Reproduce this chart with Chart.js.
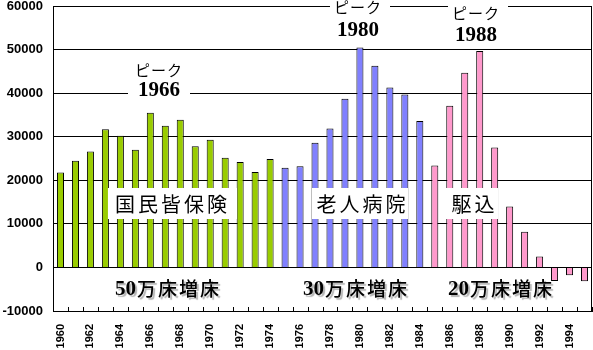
<!DOCTYPE html>
<html>
<head>
<meta charset="utf-8">
<script src="https://cdn.jsdelivr.net/npm/chart.js@4"></script>
<style>
  html, body { margin: 0; padding: 0; background: #fff; }
</style>
</head>
<body>
<canvas id="bedChart" width="593" height="350"></canvas>
<script>
const years = [
  '1960', '1961', '1962', '1963', '1964', '1965', '1966', '1967', '1968', '1969',
  '1970', '1971', '1972', '1973', '1974', '1975', '1976', '1977', '1978', '1979',
  '1980', '1981', '1982', '1983', '1984', '1985', '1986', '1987', '1988', '1989',
  '1990', '1991', '1992', '1993', '1994', '1995'
];

// 病床増加数（年ごと）
const kokuminKaihoken = [21800, 24500, 26600, 31700, 30200, 27000, 35500, 32500, 33900, 27800,
                         29300, 25200, 24200, 21900, 24900];       // 1960-1974
const roujinByouin = [22900, 23200, 28600, 31900, 38700, 50500, 46300, 41300, 39700, 33600]; // 1975-1984
const kakekomi = [23400, 37100, 44700, 49700, 27500, 14000, 8200, 2500, -3100, -1800, -3200]; // 1985-1995

const yTicks = [-10000, 0, 10000, 20000, 30000, 40000, 50000, 60000];

const GREEN = '#99CC00';
const BLUE = '#8080FF';
const PINK = '#FF99CC';

const values = kokuminKaihoken.concat(roujinByouin, kakekomi);
const colors = kokuminKaihoken.map(() => GREEN)
  .concat(roujinByouin.map(() => BLUE), kakekomi.map(() => PINK));

const JP = "'Noto Sans CJK JP'";

// 目盛り・注記・区間ラベル
const overlay = {
  id: 'overlay',
  afterDatasetsDraw(chart) {
    const { ctx, chartArea: a, scales: { x } } = chart;
    ctx.save();

    // 内向きの目盛り線と右枠
    ctx.strokeStyle = '#000';
    ctx.lineWidth = 1;
    ctx.beginPath();
    const half = (x.getPixelForValue(1) - x.getPixelForValue(0)) / 2;
    for (let i = 0; i <= years.length; i++) {
      const px = Math.round(x.getPixelForValue(i) - half) + 0.5;
      ctx.moveTo(px, a.bottom);
      ctx.lineTo(px, a.bottom - 4);
    }
    ctx.moveTo(a.right - 0.5, a.top);
    ctx.lineTo(a.right - 0.5, a.bottom);
    ctx.stroke();

    ctx.textAlign = 'center';
    ctx.textBaseline = 'middle';

    // ピーク
    const peak = (cx, left, right, top, bottom, y1, y2, year) => {
      ctx.fillStyle = '#fff';
      ctx.fillRect(left, top, right - left, bottom - top);
      ctx.fillStyle = '#000';
      ctx.font = '15px ' + JP;
      ctx.letterSpacing = '1px';
      ctx.fillText('ピーク', cx, y1);
      ctx.letterSpacing = '0px';
      ctx.font = 'bold 21px "Liberation Serif"';
      ctx.fillText(year, cx, y2);
    };
    peak(159, 128, 190, 62, 100, 70, 91, '1966');
    peak(358, 330, 390, 0, 40, 7, 31, '1980');
    peak(476, 448, 508, 0, 44, 13, 36, '1988');

    // 白抜きの区間ラベル
    const boxed = (text, left, right, cx) => {
      ctx.fillStyle = '#fff';
      ctx.fillRect(left, 188, right - left, 31);
      ctx.fillStyle = '#000';
      ctx.font = '20px ' + JP;
      ctx.letterSpacing = '3px';
      ctx.fillText(text, cx + 1.5, 204);
      ctx.letterSpacing = '0px';
    };
    boxed('国民皆保険', 108, 237, 171);
    boxed('老人病院', 312, 408, 361);
    boxed('駆込', 445, 498, 473);

    // 増床数（影付き）
    const beds = (num, left) => {
      ctx.textAlign = 'left';
      ctx.fillStyle = '#000';
      ctx.shadowColor = 'rgba(0,0,0,0.3)';
      ctx.shadowOffsetX = 2;
      ctx.shadowOffsetY = 2;
      ctx.shadowBlur = 1;
      ctx.font = 'bold 21px "Liberation Serif"';
      ctx.fillText(num, left, 290);
      const w = ctx.measureText(num).width;
      ctx.font = '500 19px ' + JP;
      ctx.letterSpacing = '2px';
      ctx.fillText('万床増床', left + w + 1, 289);
      ctx.letterSpacing = '0px';
      ctx.shadowColor = 'transparent';
    };
    beds('50', 115);
    beds('30', 303);
    beds('20', 448);

    ctx.restore();
  }
};

new Chart(document.getElementById('bedChart').getContext('2d'), {
  type: 'bar',
  data: {
    labels: years,
    datasets: [{
      data: values,
      backgroundColor: colors,
      borderColor: '#000',
      borderWidth: 1,
      barPercentage: 0.47,
      categoryPercentage: 1.0
    }]
  },
  options: {
    responsive: false,
    devicePixelRatio: 1,
    animation: false,
    layout: { padding: { top: 6, right: 1, left: 0, bottom: 0 } },
    plugins: {
      legend: { display: false },
      tooltip: { enabled: false }
    },
    scales: {
      x: {
        grid: { display: false, drawTicks: false },
        border: { color: '#000', width: 1 },
        ticks: {
          autoSkip: false,
          minRotation: 90,
          maxRotation: 90,
          padding: 13,
          color: '#000',
          font: { family: 'Liberation Sans', size: 11, weight: 'bold' },
          callback: (v, i) => (i % 2 === 0 ? years[i] : '')
        },
        afterFit: (s) => { s.height = 39; s.paddingLeft = 0; s.paddingRight = 0; }
      },
      y: {
        min: yTicks[0],
        max: yTicks[yTicks.length - 1],
        afterBuildTicks: (s) => { s.ticks = yTicks.map(v => ({ value: v })); },
        grid: { color: '#000', lineWidth: 1, drawTicks: false },
        border: { color: '#000', width: 1 },
        ticks: {
          padding: 10,
          color: '#000',
          font: { family: 'Liberation Sans', size: 13, weight: 'bold' },
          callback: (v) => String(v)
        },
        afterFit: (s) => { s.width = 53; s.paddingTop = 0; s.paddingBottom = 0; }
      }
    }
  },
  plugins: [overlay]
});
</script>
</body>
</html>
